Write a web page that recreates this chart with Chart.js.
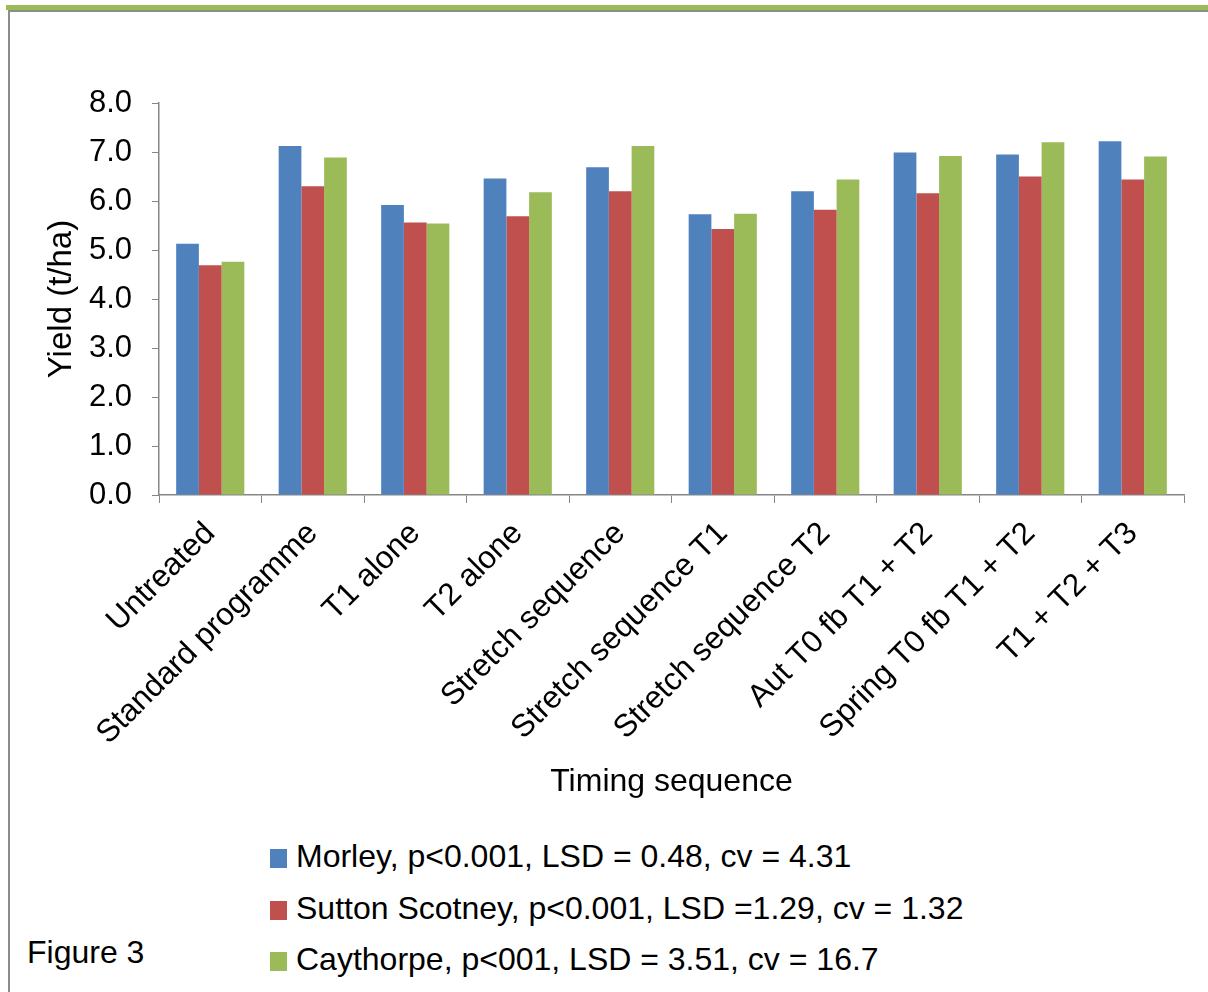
<!DOCTYPE html>
<html>
<head>
<meta charset="utf-8">
<script src="https://cdn.jsdelivr.net/npm/chart.js@4.4.1/dist/chart.umd.min.js"></script>
<style>
  body { margin: 0; background: #fff; font-family: 'Liberation Sans', Arial, sans-serif; }
  #wrap { position: relative; width: 1208px; height: 992px; overflow: hidden; }
  #box { position: absolute; left: 0; top: 0; width: 1208px; height: 810px; }
  .key { position: absolute; left: 270px; font-size: 32px; color: #000; white-space: nowrap; }
  .key span { display: inline-block; width: 17px; height: 19px; margin-right: 9px; vertical-align: -1px; }
</style>
</head>
<body>
<div id="wrap">
  <div style="position:absolute;left:6px;top:5px;width:1202px;height:5px;background:#9bbb59"></div>
  <div style="position:absolute;left:8px;top:10px;width:1200px;height:2px;background:#8c8c8c"></div>
  <div style="position:absolute;left:8px;top:10px;width:2px;height:982px;background:#8c8c8c"></div>
  <div id="box"><canvas id="chartYield"></canvas></div>
  <div class="key" style="top:838px"><span style="background:#4f81bd"></span>Morley, p&lt;0.001, LSD = 0.48, cv = 4.31</div>
  <div class="key" style="top:890px"><span style="background:#c0504d"></span>Sutton Scotney, p&lt;0.001, LSD =1.29, cv = 1.32</div>
  <div class="key" style="top:941px"><span style="background:#9bbb59"></span>Caythorpe, p&lt;001, LSD = 3.51, cv = 16.7</div>
  <div style="position:absolute;left:27px;top:934px;font-size:32px;">Figure 3</div>
</div>
<script>
// timing sequences (x categories)
const timings = [
    'Untreated',
    'Standard programme',
    'T1 alone',
    'T2 alone',
    'Stretch sequence',
    'Stretch sequence T1',
    'Stretch sequence T2',
    'Aut T0 fb T1 + T2',
    'Spring T0 fb T1 + T2',
    'T1 + T2 + T3'
];

// yield, t/ha
const morley = [5.13, 7.12, 5.92, 6.46, 6.69, 5.73, 6.20, 6.99, 6.95, 7.22];
const suttonScotney = [4.69, 6.30, 5.56, 5.69, 6.20, 5.43, 5.82, 6.16, 6.50, 6.44];
const caythorpe = [4.76, 6.89, 5.54, 6.18, 7.12, 5.74, 6.44, 6.92, 7.20, 6.91];

const siteNames = [
    'Morley, p<0.001, LSD = 0.48, cv = 4.31',
    'Sutton Scotney, p<0.001, LSD =1.29, cv = 1.32',
    'Caythorpe, p<001, LSD = 3.51, cv = 16.7'
];

const axisGrey = '#868686';
const fontFam = "'Liberation Sans', Arial, sans-serif";

const ctxYield = document.getElementById('chartYield').getContext('2d');
new Chart(ctxYield, {
    type: 'bar',
    data: {
        labels: timings,
        datasets: [
            { label: siteNames[0], data: morley, backgroundColor: '#4f81bd' },
            { label: siteNames[1], data: suttonScotney, backgroundColor: '#c0504d' },
            { label: siteNames[2], data: caythorpe, backgroundColor: '#9bbb59' }
        ]
    },
    options: {
        responsive: true,
        maintainAspectRatio: false,
        animation: false,
        categoryPercentage: 0.665,
        barPercentage: 1.0,
        layout: { padding: { top: 103, left: 40, right: 24, bottom: 5 } },
        plugins: {
            legend: { display: false },
            tooltip: { enabled: false }
        },
        scales: {
            x: {
                afterFit: (scale) => { scale.height = 310; },
                grid: { display: true, drawOnChartArea: false, tickLength: 8, color: axisGrey },
                border: { color: axisGrey, width: 1.5 },
                ticks: {
                    color: '#000',
                    font: { family: fontFam, size: 31.5 },
                    minRotation: 45,
                    maxRotation: 45,
                    autoSkip: false,
                    padding: 12
                },
                title: {
                    display: true,
                    text: 'Timing sequence',
                    color: '#000',
                    font: { family: fontFam, size: 32 },
                    padding: { top: 4, bottom: 4 }
                }
            },
            y: {
                min: 0,
                max: 8,
                afterFit: (scale) => { scale.width = 119; },
                grid: { display: true, drawOnChartArea: false, tickLength: 7, color: axisGrey },
                border: { color: axisGrey, width: 1.5 },
                ticks: {
                    stepSize: 1,
                    color: '#000',
                    font: { family: fontFam, size: 31 },
                    padding: 20,
                    callback: (v) => v.toFixed(1)
                },
                title: {
                    display: true,
                    text: 'Yield (t/ha)',
                    color: '#000',
                    font: { family: fontFam, size: 33 },
                    padding: { top: 2, bottom: 4 }
                }
            }
        }
    }
});
</script>
</body>
</html>
